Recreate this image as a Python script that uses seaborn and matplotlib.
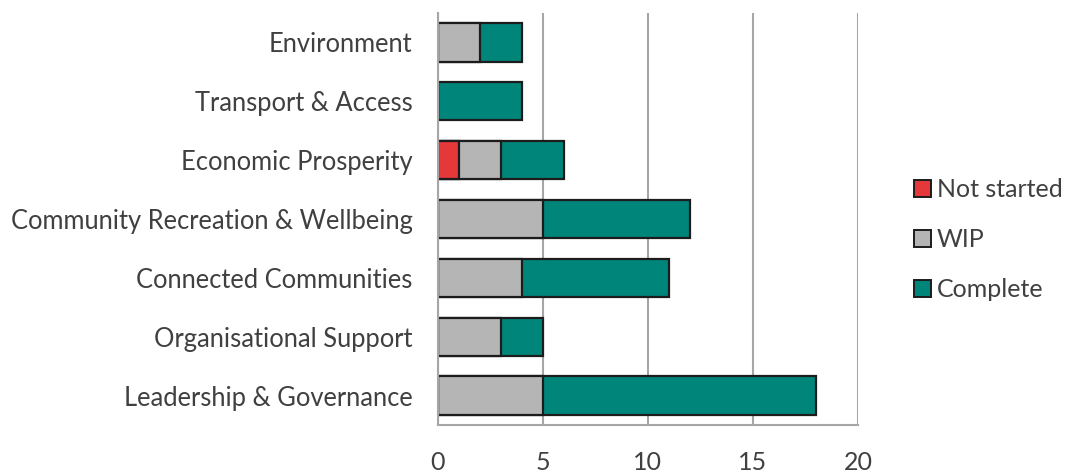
import matplotlib
matplotlib.use("Agg")
import matplotlib.pyplot as plt
import seaborn as sns
import pandas as pd
from matplotlib.patches import Patch

categories = [
    "Environment",
    "Transport & Access",
    "Economic Prosperity",
    "Community Recreation & Wellbeing",
    "Connected Communities",
    "Organisational Support",
    "Leadership & Governance",
]
not_started = [0, 0, 1, 0, 0, 0, 0]
wip = [2, 0, 2, 5, 4, 3, 5]
complete = [2, 4, 3, 7, 7, 2, 13]
series_names = ["Not started", "WIP", "Complete"]
x_ticks = [0, 5, 10, 15, 20]

colors = {"Not started": "#E5383B", "WIP": "#B5B5B5", "Complete": "#00857A"}
edge = "#1c1c1c"

sns.set_theme(style="white")
plt.rcParams["font.family"] = ["Lato", "DejaVu Sans"]

df = pd.DataFrame({
    "category": categories,
    "Not started": not_started,
    "WIP": wip,
    "Complete": complete,
})
# cumulative right edges of each stacked segment
df["end_ns"] = df["Not started"]
df["end_wip"] = df["end_ns"] + df["WIP"]
df["end_complete"] = df["end_wip"] + df["Complete"]

fig, ax = plt.subplots(figsize=(10.7, 4.73), dpi=100)
fig.subplots_adjust(left=0.409, right=0.802, top=0.9725, bottom=0.1015)

# draw longest segments first so shorter ones sit on top, forming the stack
for col, name in [("end_complete", "Complete"), ("end_wip", "WIP"), ("end_ns", "Not started")]:
    sns.barplot(data=df, x=col, y="category", order=categories, orient="h",
                color=colors[name], edgecolor=edge, linewidth=1.6,
                width=0.65, saturation=1, ax=ax)

ax.set_xlim(0, 20)
ax.set_ylim(6.5, -0.5)
ax.set_xticks(x_ticks)
ax.set_xlabel("")
ax.set_ylabel("")
ax.xaxis.grid(True, color="#a6a6a6", linewidth=1.5)
ax.yaxis.grid(False)
ax.set_axisbelow(True)
for s in ["top", "right"]:
    ax.spines[s].set_visible(False)
for s in ["left", "bottom"]:
    ax.spines[s].set_color("#a6a6a6")
    ax.spines[s].set_linewidth(1.5)
ax.tick_params(axis="x", length=0, pad=19, labelsize=18, labelcolor="#404040")
ax.tick_params(axis="y", length=0, pad=18, labelsize=18.4, labelcolor="#404040")

handles = [Patch(facecolor=colors[n], edgecolor=edge, linewidth=1.4, label=n) for n in series_names]
ax.legend(handles=handles, loc="center left", bbox_to_anchor=(1.08, 0.45), frameon=False,
          fontsize=18, handlelength=0.65, handleheight=0.65, handletextpad=0.25,
          labelspacing=1.08, labelcolor="#404040")

fig.savefig("out.png", dpi=100)
